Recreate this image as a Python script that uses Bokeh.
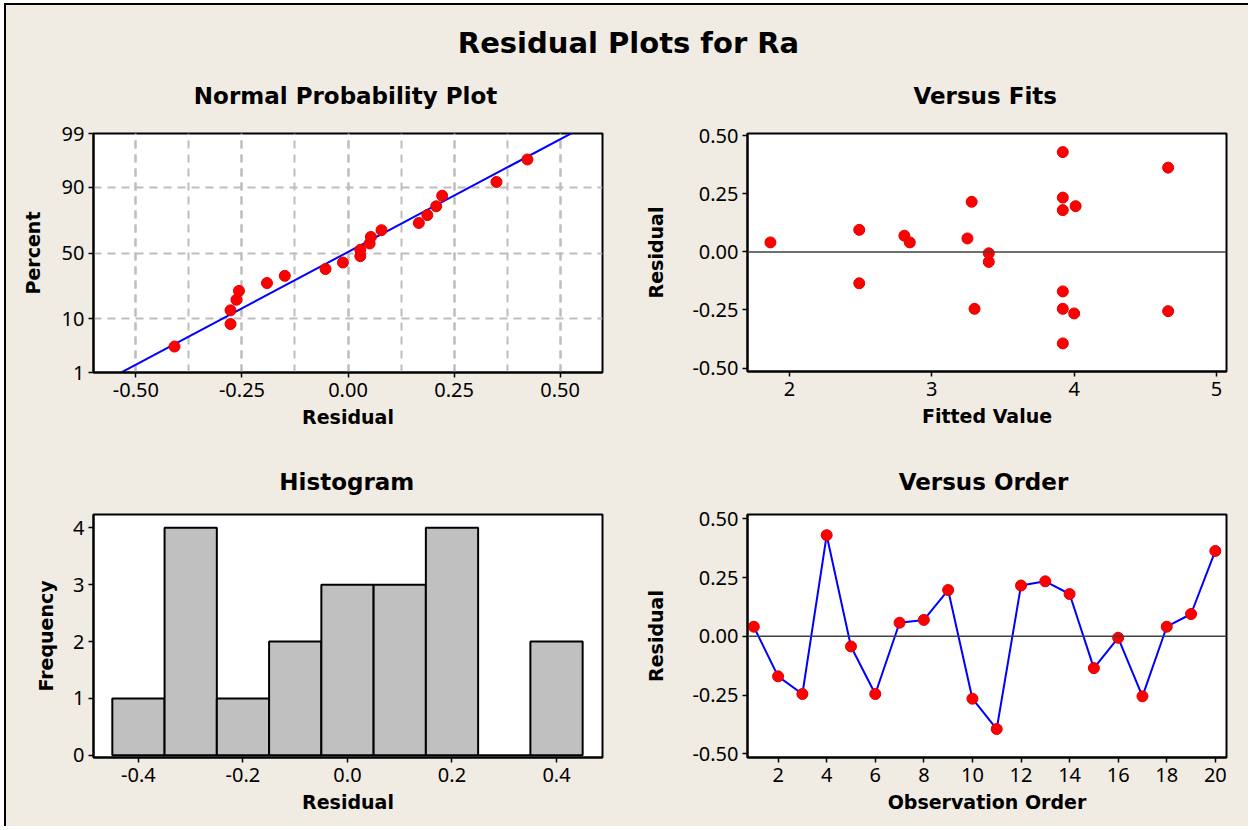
from statistics import NormalDist
import numpy as np
from bokeh.plotting import figure
from bokeh.layouts import column, row
from bokeh.models import FixedTicker, NumeralTickFormatter, Span, CustomJSTickFormatter
from bokeh.core.properties import value
from bokeh.embed import file_html
from bokeh.resources import INLINE

# ---------------- data ----------------
main_title = "Residual Plots for Ra"
panel_titles = ["Normal Probability Plot", "Versus Fits", "Histogram", "Versus Order"]

# Normal probability plot: residuals as plotted (sorted)
npp_residuals = [-0.409, -0.277, -0.277, -0.263, -0.257, -0.191, -0.149, -0.053,
                 -0.012, 0.029, 0.029, 0.051, 0.054, 0.079, 0.167, 0.187,
                 0.208, 0.222, 0.350, 0.423]
pct_ticks = [1, 10, 50, 90, 99]
npp_x_ticks = [-0.5, -0.25, 0.0, 0.25, 0.5]
npp_x_grid = [-0.5, -0.375, -0.25, -0.125, 0.0, 0.125, 0.25, 0.375, 0.5]

# Versus fits / versus order (observation order)
order = list(range(1, 21))
residuals = [0.041, -0.170, -0.245, 0.430, -0.043, -0.245, 0.058, 0.070, 0.197, -0.265,
             -0.394, 0.216, 0.234, 0.180, -0.135, -0.006, -0.255, 0.041, 0.095, 0.363]
fitted = [1.866, 3.920, 3.300, 3.920, 3.400, 3.920, 3.250, 2.807, 4.010, 4.000,
          3.920, 3.280, 3.920, 3.920, 2.490, 3.400, 4.660, 2.845, 2.490, 4.660]
fit_x_ticks = [2, 3, 4, 5]
resid_ticks = [-0.5, -0.25, 0.0, 0.25, 0.5]
order_ticks = [2, 4, 6, 8, 10, 12, 14, 16, 18, 20]

# Histogram
hist_mid = [-0.4, -0.3, -0.2, -0.1, 0.0, 0.1, 0.2, 0.3, 0.4]
hist_freq = [1, 4, 1, 2, 3, 3, 4, 0, 2]
hist_x_ticks = [-0.4, -0.2, 0.0, 0.2, 0.4]
hist_y_ticks = [0, 1, 2, 3, 4]

# ---------------- derived ----------------
nd = NormalDist()
n = len(npp_residuals)
npp_z = [nd.inv_cdf((i - 0.3) / (n + 0.4)) for i in range(1, n + 1)]
pct_z = [nd.inv_cdf(p / 100.0) for p in pct_ticks]
mu = float(np.mean(npp_residuals))
sd = float(np.std(npp_residuals, ddof=1))
line_z = [-2.8, 2.8]
line_x = [mu + sd * z for z in line_z]

# ---------------- styling ----------------
BG = "#F0ECE3"
RED = "#FF0000"
BLUE = "#0000FF"
FONT = "DejaVu Sans"
TICK_FONT = "Noto Sans"
TICK_SIZE = "20px"
LABEL_SIZE = "19px"
PTITLE_SIZE = "23px"
TOTAL_W = 1242


def make_fig(fw, fh, bl, br, bt, bb, xr, yr):
    p = figure(frame_width=fw, frame_height=fh, x_range=xr, y_range=yr,
               min_border_left=bl, min_border_right=br, min_border_top=bt,
               min_border_bottom=bb, toolbar_location=None, output_backend="svg")
    p.background_fill_color = "white"
    p.border_fill_color = BG
    p.outline_line_color = "black"
    p.outline_line_width = 2
    for ax in p.axis:
        ax.axis_line_color = "black"
        ax.axis_line_width = 2
        ax.major_tick_in = 0
        ax.major_tick_out = 5
        ax.major_tick_line_color = "black"
        ax.major_tick_line_width = 1.5
        ax.minor_tick_line_color = None
        ax.major_label_text_font = TICK_FONT
        ax.major_label_text_font_size = TICK_SIZE
        ax.major_label_text_color = "black"
        ax.axis_label_text_font = FONT
        ax.axis_label_text_font_style = "bold"
        ax.axis_label_text_font_size = LABEL_SIZE
        ax.axis_label_text_color = "black"
    for ax in p.xaxis:
        ax.major_label_standoff = 5
        ax.axis_label_standoff = 6
    for ax in p.yaxis:
        ax.major_label_standoff = 4
    p.grid.visible = False
    return p


def strip(height):
    s = figure(width=TOTAL_W, height=height, x_range=(0, 1), y_range=(0, 1),
               min_border=0, toolbar_location=None, output_backend="svg")
    s.axis.visible = False
    s.grid.visible = False
    s.outline_line_color = None
    s.background_fill_color = BG
    s.border_fill_color = BG
    return s


def strip_text(s, xs, ys, texts, size):
    s.text(x=xs, y=ys, text=texts, text_font=value(FONT), text_font_style="bold",
           text_font_size=size, text_color="black", text_align="center",
           text_baseline="middle")


# ---- Normal probability plot ----
p1 = make_fig(509, 239, 87, 38, 12, 79, (-0.6, 0.6), (pct_z[0], pct_z[-1]))
xt = FixedTicker(ticks=npp_x_ticks, minor_ticks=npp_x_grid)
p1.xaxis.ticker = xt
p1.xaxis.formatter = NumeralTickFormatter(format="0.00")
yt = FixedTicker(ticks=pct_z, minor_ticks=[])
p1.yaxis.ticker = yt
p1.yaxis.formatter = CustomJSTickFormatter(args=dict(zs=pct_z, labs=[str(v) for v in pct_ticks]), code="""
    let best = 0, d = 1e9;
    for (let i = 0; i < zs.length; i++) { const e = Math.abs(zs[i] - tick); if (e < d) { d = e; best = i; } }
    return labs[best];
""")
p1.xaxis.axis_label = "Residual"
p1.yaxis.axis_label = "Percent"
p1.yaxis.axis_label_standoff = 15
p1.grid.visible = True
p1.xgrid.ticker = xt
p1.ygrid.ticker = yt
for g in (p1.xgrid, p1.ygrid):
    g.grid_line_color = "#BDBDBD"
    g.grid_line_width = 2
    g.grid_line_dash = "8 6"
p1.xgrid.minor_grid_line_color = "#BDBDBD"
p1.xgrid.minor_grid_line_width = 2
p1.xgrid.minor_grid_line_dash = "8 6"
p1.line(line_x, line_z, line_color=BLUE, line_width=2)
p1.scatter(npp_residuals, npp_z, size=11, fill_color=RED, line_color="#E00000")

# ---- Versus fits ----
p2 = make_fig(479, 238, 107, 22, 13, 79, (1.705, 5.07), (-0.515, 0.51))
p2.xaxis.ticker = FixedTicker(ticks=fit_x_ticks, minor_ticks=[])
p2.yaxis.ticker = FixedTicker(ticks=resid_ticks, minor_ticks=[])
p2.yaxis.formatter = NumeralTickFormatter(format="0.00")
p2.xaxis.axis_label = "Fitted Value"
p2.yaxis.axis_label = "Residual"
p2.yaxis.axis_label_standoff = 22
p2.add_layout(Span(location=0, dimension="width", line_color="#404040", line_width=1.5))
p2.scatter(fitted, residuals, size=11, fill_color=RED, line_color="#E00000")

# ---- Histogram ----
p3 = make_fig(509, 243, 87, 38, 14, 69, (-0.486, 0.488), (-0.04, 4.235))
p3.xaxis.ticker = FixedTicker(ticks=hist_x_ticks, minor_ticks=[])
p3.xaxis.formatter = NumeralTickFormatter(format="0.0")
p3.yaxis.ticker = FixedTicker(ticks=hist_y_ticks, minor_ticks=[])
p3.xaxis.axis_label = "Residual"
p3.yaxis.axis_label = "Frequency"
p3.yaxis.axis_label_standoff = 13
p3.vbar(x=hist_mid, width=0.1, top=hist_freq, bottom=0,
        fill_color="#C0C0C0", line_color="black", line_width=2)

# ---- Versus order ----
p4 = make_fig(479, 243, 107, 22, 14, 69, (0.74, 20.46), (-0.515, 0.518))
p4.xaxis.ticker = FixedTicker(ticks=order_ticks, minor_ticks=[])
p4.yaxis.ticker = FixedTicker(ticks=resid_ticks, minor_ticks=[])
p4.yaxis.formatter = NumeralTickFormatter(format="0.00")
p4.xaxis.axis_label = "Observation Order"
p4.yaxis.axis_label = "Residual"
p4.yaxis.axis_label_standoff = 22
p4.add_layout(Span(location=0, dimension="width", line_color="#404040", line_width=1.5))
p4.line(order, residuals, line_color=BLUE, line_width=2)
p4.scatter(order, residuals, size=11, fill_color=RED, line_color="#E00000")

# ---- title strips ----
sa = strip(115)
strip_text(sa, [0.5008], [0.678], [main_title], "29px")
strip_text(sa, [0.273, 0.788], [0.209, 0.209], panel_titles[:2], PTITLE_SIZE)
sb = strip(50)
strip_text(sb, [0.274, 0.7866], [0.38, 0.38], panel_titles[2:], PTITLE_SIZE)

layout = column(sa, row(p1, p2, styles={"background-color": BG}),
                sb, row(p3, p4, styles={"background-color": BG}),
                styles={"background-color": BG, "border-top": "2px solid black",
                        "border-left": "2px solid black", "margin": "3px 0 0 4px"})
open("out.html", "w").write(file_html(layout, INLINE))
